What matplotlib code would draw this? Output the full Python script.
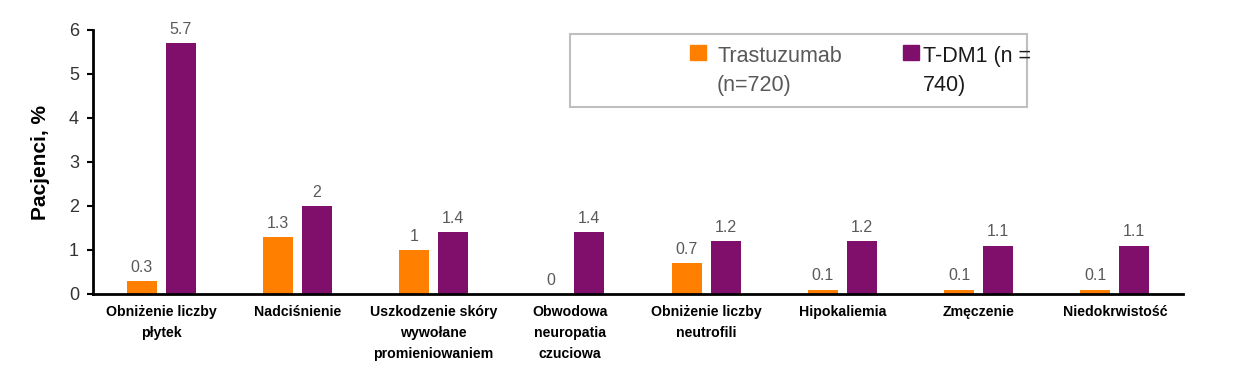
import matplotlib
matplotlib.use("Agg")
import matplotlib.pyplot as plt
import numpy as np
from matplotlib.patches import Rectangle

categories = ["Obniżenie liczby\npłytek", "Nadciśnienie", "Uszkodzenie skóry\nwywołane\npromieniowaniem",
              "Obwodowa\nneuropatia\nczuciowa", "Obniżenie liczby\nneutrofili", "Hipokaliemia",
              "Zmęczenie", "Niedokrwistość"]
trastuzumab = [0.3, 1.3, 1.0, 0.0, 0.7, 0.1, 0.1, 0.1]
tdm1 = [5.7, 2.0, 1.4, 1.4, 1.2, 1.2, 1.1, 1.1]
tras_labels = ["0.3", "1.3", "1", "0", "0.7", "0.1", "0.1", "0.1"]
tdm1_labels = ["5.7", "2", "1.4", "1.4", "1.2", "1.2", "1.1", "1.1"]
series_names = ["Trastuzumab\n(n=720)", "T-DM1 (n =\n740)"]
yticks = [0, 1, 2, 3, 4, 5, 6]

c_or = "#FF8000"
c_pu = "#7F0F6B"
gray = "#595959"

fig = plt.figure(figsize=(12.36, 3.85), dpi=100)
ax = fig.add_axes([93/1236, 1-294/385, (1183-93)/1236, (294-30)/385])

x = np.arange(len(categories))
w = 0.22
off = 0.143
ax.bar(x - off, trastuzumab, w, color=c_or)
ax.bar(x + off, tdm1, w, color=c_pu)
for i in range(len(x)):
    ax.text(x[i]-off, trastuzumab[i]+0.14, tras_labels[i], ha="center", va="bottom",
            fontsize=11.5, color=gray, family="Liberation Sans")
    ax.text(x[i]+off, tdm1[i]+0.14, tdm1_labels[i], ha="center", va="bottom",
            fontsize=11.5, color=gray, family="Liberation Sans")

ax.set_xlim(-0.5, len(categories)-0.5)
ax.set_ylim(0, 6)
ax.set_yticks(yticks)
ax.set_yticklabels([str(t) for t in yticks], fontsize=13, color="#333333", family="Liberation Sans")
ax.set_xticks(x)
ax.set_xticklabels(categories, fontsize=10.2, fontweight="bold",
                   family=["Liberation Sans Narrow", "Liberation Sans"], linespacing=1.65)
ax.tick_params(axis="x", length=0, pad=8)
ax.tick_params(axis="y", length=4, width=1.5, pad=6)
for s in ["top", "right"]:
    ax.spines[s].set_visible(False)
for s in ["left", "bottom"]:
    ax.spines[s].set_linewidth(2)
    ax.spines[s].set_color("black")
ax.set_ylabel("Pacjenci, %", fontsize=15, fontweight="bold", family="Liberation Sans", labelpad=14)

# legend box
fig.patches.append(Rectangle((570/1236, 1-107/385), (1027-570)/1236, (107-34)/385,
                             transform=fig.transFigure, fill=False, edgecolor="#BFBFBF", linewidth=1.5))
fig.patches.append(Rectangle((690/1236, 1-60/385), 16/1236, 15/385, transform=fig.transFigure, color=c_or))
fig.patches.append(Rectangle((903/1236, 1-60/385), 16/1236, 15/385, transform=fig.transFigure, color=c_pu))
fig.text(717/1236, 1-46/385, series_names[0], ha="left", va="top", fontsize=15.5, color=gray,
         family="Liberation Sans", linespacing=1.5)
fig.text(923/1236, 1-46/385, series_names[1], ha="left", va="top", fontsize=15.5, color="#1a1a1a",
         family="Liberation Sans", linespacing=1.5)

fig.savefig("out.png", dpi=100)
